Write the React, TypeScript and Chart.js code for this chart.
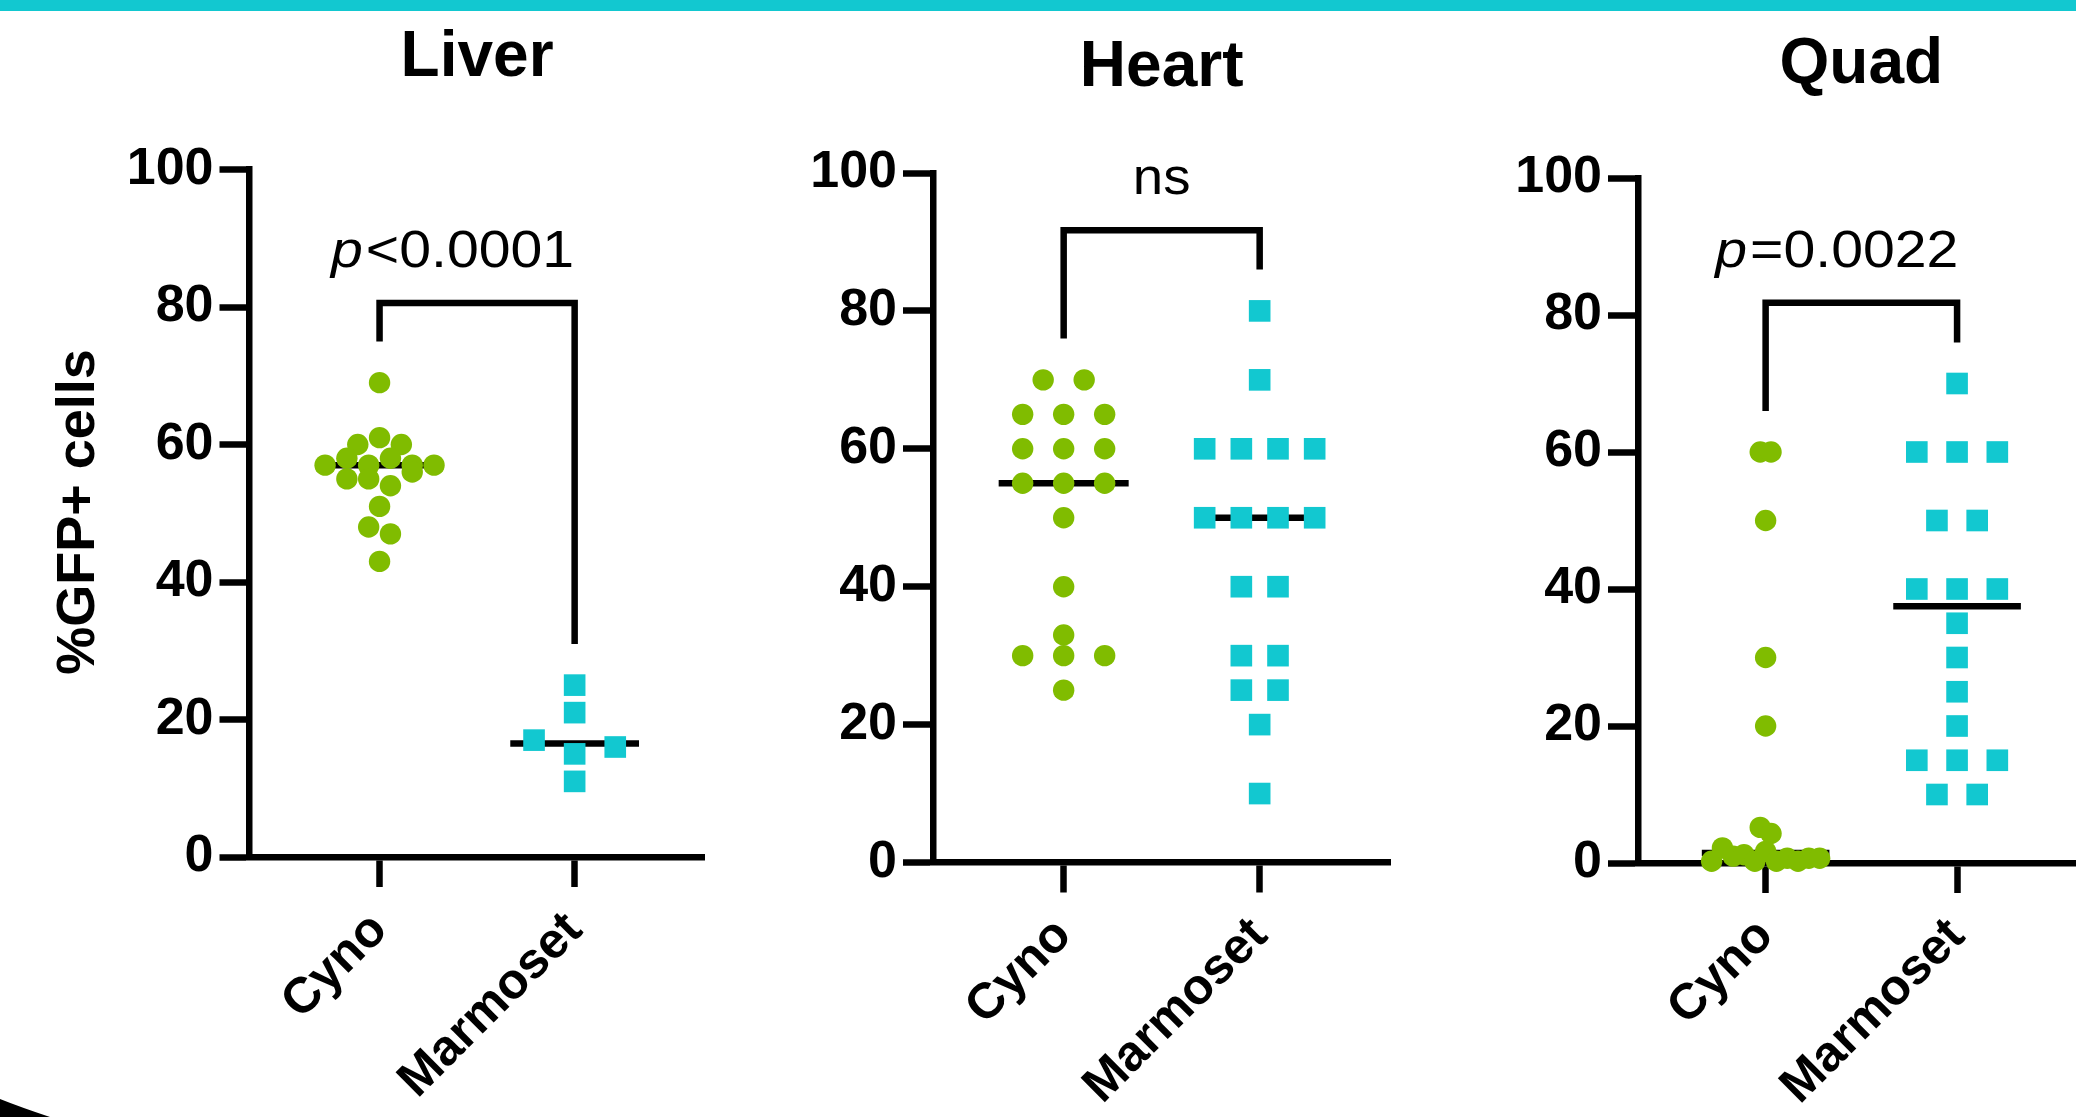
import React, { useEffect, useRef } from 'react';
import { Chart, registerables } from 'chart.js';

Chart.register(...registerables);

const FONT = '"Liberation Sans", Arial, Helvetica, sans-serif';
const GREEN = '#80BC00';
const CYAN = '#12C8D0';

// ---------------- data ----------------
const CATEGORIES = ['Cyno', 'Marmoset'];
const Y_TICKS = [0, 20, 40, 60, 80, 100];
const TITLES = ['Liver', 'Heart', 'Quad'];
const Y_TITLE = '%GFP+ cells';

const liverCyno = [69, 60, 61, 60, 57, 58, 57, 58, 57, 57, 55, 55, 54, 56, 51, 48, 47, 43];
const liverMarmoset = [25, 21, 17, 15, 16, 11];
const heartCyno = [70, 70, 65, 65, 65, 60, 60, 60, 55, 55, 55, 50, 40, 33, 30, 30, 30, 25];
const heartMarmoset = [80, 70, 60, 60, 60, 60, 50, 50, 50, 50, 40, 40, 30, 30, 25, 25, 20, 10];
const quadCyno = [60, 60, 50, 30, 20, 5.2, 4.3, 0.25, 2.2, 1.0, 1.2, 0.25, 1.7, 0.25, 0.7, 0.25, 0.7, 0.7];
const quadMarmoset = [70, 60, 60, 60, 50, 50, 40, 40, 40, 35, 30, 25, 20, 15, 15, 15, 10, 10];

const CYNO = [liverCyno, heartCyno, quadCyno];
const MARMOSET = [liverMarmoset, heartMarmoset, quadMarmoset];

const STAT_PREFIX = ['p', '', 'p'];
const STAT_TEXT = ['<0.0001', 'ns', '=0.0022'];
const BRACKET_LEFT = [75, 76, 66];
const BRACKET_TOP = [80.6, 91.7, 81.8];
const BRACKET_RIGHT = [31, 86, 76];

// ---------------- layout (pixels) ----------------
const H = 1117;
const LAYOUT = [
  { left: 0, width: 720, areaLeft: 249.5, areaTop: 169.5, areaBottom: 857, spacing: 197, titleBaseline: 76 },
  { left: 720, width: 700, areaLeft: 213, areaTop: 173, areaBottom: 862.5, spacing: 196, titleBaseline: 86 },
  { left: 1400, width: 700, areaLeft: 238, areaTop: 178, areaBottom: 863, spacing: 195, titleBaseline: 83 },
];

function median(vals: number[]) {
  const s = [...vals].sort((a, b) => a - b);
  const n = s.length;
  return n % 2 ? s[(n - 1) / 2] : (s[n / 2 - 1] + s[n / 2]) / 2;
}

// Prism-like column scatter: bin values into rows, spread each row symmetrically
function swarm(values: number[], center: number, spacingPx: number) {
  const rowH = 2.9;
  const stepMax = 41 / spacingPx;
  const colW = 110 / spacingPx;
  const idx = values.map((_, i) => i).sort((a, b) => values[a] - values[b] || a - b);
  const rows: number[][] = [];
  let start = -Infinity;
  for (const i of idx) {
    if (values[i] - start >= rowH - 1e-9) {
      rows.push([i]);
      start = values[i];
    } else rows[rows.length - 1].push(i);
  }
  const maxN = Math.max(...rows.map((r) => r.length));
  const step = maxN > 1 ? Math.min(stepMax, colW / (maxN - 1)) : stepMax;
  const pts: { x: number; y: number }[] = new Array(values.length);
  for (const r of rows) {
    r.sort((a, b) => a - b);
    r.forEach((i, k) => {
      pts[i] = { x: center + (k - (r.length - 1) / 2) * step, y: values[i] };
    });
  }
  return pts;
}

function drawStretched(
  ctx: CanvasRenderingContext2D,
  text: string,
  x: number,
  y: number,
  font: string,
  sx: number,
  align: CanvasTextAlign
) {
  ctx.save();
  ctx.font = font;
  ctx.translate(x, y);
  ctx.scale(sx, 1);
  ctx.textAlign = align;
  ctx.textBaseline = 'alphabetic';
  ctx.fillStyle = '#000';
  ctx.fillText(text, 0, 0);
  ctx.restore();
}

function makeAnnotations(i: number) {
  return {
    id: 'annotations' + i,
    afterDraw(chart: any) {
      const ctx: CanvasRenderingContext2D = chart.ctx;
      const xs = chart.scales.x;
      const ys = chart.scales.y;
      const L = LAYOUT[i];
      const cx = xs.getPixelForValue(0.5);
      // panel title
      drawStretched(ctx, TITLES[i], cx, L.titleBaseline, `bold 64px ${FONT}`, 1.0, 'center');
      // statistic label
      const base = ys.getPixelForValue(BRACKET_TOP[i]) - 36;
      const prefix = STAT_PREFIX[i];
      const rest = STAT_TEXT[i];
      if (prefix) {
        const sx = 1.1;
        ctx.save();
        ctx.font = `italic 52px ${FONT}`;
        const wp = ctx.measureText(prefix).width * sx;
        ctx.font = `52px ${FONT}`;
        const wr = ctx.measureText(rest).width * sx;
        ctx.restore();
        const x0 = cx - 26 - (wp + wr) / 2;
        drawStretched(ctx, prefix, x0, base, `italic 52px ${FONT}`, sx, 'left');
        drawStretched(ctx, rest, x0 + wp + 3, base, `52px ${FONT}`, sx, 'left');
      } else {
        drawStretched(ctx, rest, cx, base, `52px ${FONT}`, 1.05, 'center');
      }
      // y-axis title (first panel only)
      if (i === 0) {
        ctx.save();
        ctx.translate(94, 512);
        ctx.rotate(-Math.PI / 2);
        ctx.font = `bold 54px ${FONT}`;
        ctx.textAlign = 'center';
        ctx.textBaseline = 'alphabetic';
        ctx.fillStyle = '#000';
        ctx.fillText(Y_TITLE, 0, 0);
        ctx.restore();
      }
    },
  };
}

function Panel({ i }: { i: number }) {
  const ref = useRef<HTMLCanvasElement>(null);
  const L = LAYOUT[i];
  useEffect(() => {
    const cyno = CYNO[i];
    const marm = MARMOSET[i];
    const medC = median(cyno);
    const medM = median(marm);
    const half = 65 / L.spacing;
    const lineStyle = {
      type: 'line' as const,
      borderColor: '#000',
      borderWidth: 6.5,
      pointRadius: 0,
      fill: false,
      tension: 0,
      clip: false as any,
      borderCapStyle: 'butt' as const,
      borderJoinStyle: 'miter' as const,
      showLine: true,
    };
    const right = L.areaLeft + (7 / 3) * L.spacing;
    const chart = new Chart(ref.current as HTMLCanvasElement, {
      type: 'scatter',
      data: {
        datasets: [
          {
            label: CATEGORIES[0],
            data: swarm(cyno, 0, L.spacing),
            pointStyle: 'circle',
            pointRadius: 10.7,
            pointBackgroundColor: GREEN,
            backgroundColor: GREEN,
            pointBorderWidth: 0,
            borderWidth: 0,
            clip: false as any,
          },
          {
            label: CATEGORIES[1],
            data: swarm(marm, 1, L.spacing),
            pointStyle: 'rect',
            pointRadius: 15.3,
            pointBackgroundColor: CYAN,
            backgroundColor: CYAN,
            pointBorderWidth: 0,
            borderWidth: 0,
            clip: false as any,
          },
          {
            ...lineStyle,
            label: 'median cyno',
            data: [
              { x: -half, y: medC },
              { x: half, y: medC },
            ],
          },
          {
            ...lineStyle,
            label: 'median marmoset',
            data: [
              { x: 1 - half, y: medM },
              { x: 1 + half, y: medM },
            ],
          },
          {
            ...lineStyle,
            label: 'bracket',
            data: [
              { x: 0, y: BRACKET_LEFT[i] },
              { x: 0, y: BRACKET_TOP[i] },
              { x: 1, y: BRACKET_TOP[i] },
              { x: 1, y: BRACKET_RIGHT[i] },
            ],
          },
        ] as any,
      },
      options: {
        responsive: false,
        animation: false,
        devicePixelRatio: 1,
        events: [],
        layout: {
          padding: { left: 0, top: L.areaTop, right: L.width - right, bottom: 0 },
        },
        plugins: {
          legend: { display: false },
          tooltip: { enabled: false },
          title: { display: false },
        },
        scales: {
          x: {
            type: 'linear',
            min: -2 / 3,
            max: 5 / 3,
            afterBuildTicks: (s: any) => {
              s.ticks = CATEGORIES.map((_, k) => ({ value: k }));
            },
            afterFit: (s: any) => {
              s.height = H - L.areaBottom;
            },
            ticks: {
              callback: (v: any) => CATEGORIES[v as number],
              autoSkip: false,
              maxRotation: 45,
              minRotation: 45,
              padding: 14,
              color: '#000',
              font: { family: FONT, size: 50, weight: 'bold' },
            },
            grid: {
              drawOnChartArea: false,
              drawTicks: true,
              tickLength: 30,
              tickWidth: 6.5,
              tickColor: '#000',
            },
            border: { display: true, width: 6.5, color: '#000' },
          },
          y: {
            type: 'linear',
            min: 0,
            max: 100,
            afterBuildTicks: (s: any) => {
              s.ticks = Y_TICKS.map((v) => ({ value: v }));
            },
            afterFit: (s: any) => {
              s.width = L.areaLeft;
            },
            ticks: {
              padding: 6,
              color: '#000',
              font: { family: FONT, size: 52, weight: 'bold' },
            },
            grid: {
              drawOnChartArea: false,
              drawTicks: true,
              tickLength: 30,
              tickWidth: 6.5,
              tickColor: '#000',
            },
            border: { display: true, width: 6.5, color: '#000' },
          },
        },
      } as any,
      plugins: [makeAnnotations(i)],
    });
    return () => chart.destroy();
  }, [i]);
  return (
    <canvas
      ref={ref}
      width={L.width}
      height={H}
      style={{ position: 'absolute', left: L.left, top: 0, width: L.width, height: H }}
    />
  );
}

export default function App() {
  return (
    <div
      style={{
        position: 'absolute',
        left: 0,
        top: 0,
        width: 2076,
        height: H,
        overflow: 'hidden',
        background: '#fff',
      }}
    >
      <div style={{ position: 'absolute', left: 0, top: 0, width: 2076, height: 11, background: CYAN }} />
      <svg
        width={2076}
        height={H}
        style={{ position: 'absolute', left: 0, top: 0, pointerEvents: 'none' }}
      >
        <path d="M0,1099 Q20,1107 50,1117 L0,1117 Z" fill="#000" />
      </svg>
      {[0, 1, 2].map((i) => (
        <Panel key={i} i={i} />
      ))}
    </div>
  );
}
